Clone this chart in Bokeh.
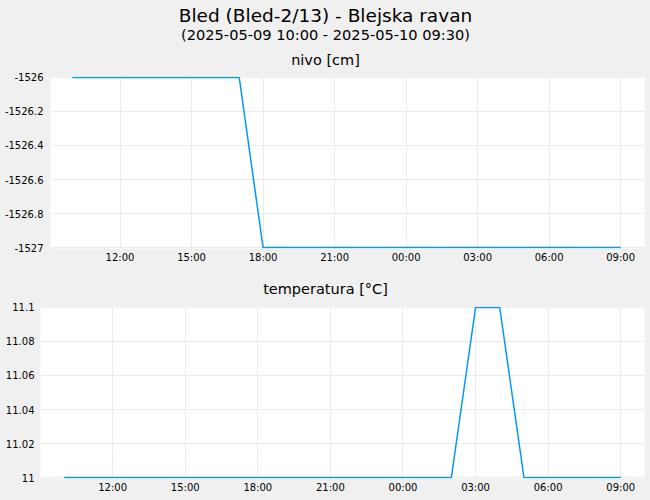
import pandas as pd
from jinja2 import Template
from bokeh.plotting import figure
from bokeh.layouts import column
from bokeh.models import (Range1d, FixedTicker, DatetimeTickFormatter,
                          NumeralTickFormatter, ColumnDataSource)
from bokeh.core.properties import value
from bokeh.core.templates import FILE
from bokeh.embed import file_html
from bokeh.resources import INLINE

# ---------------- data ----------------
TITLE = "Bled (Bled-2/13) - Blejska ravan"
SUBTITLE = "(2025-05-09 10:00 - 2025-05-10 09:30)"
LEVEL_TITLE = "nivo [cm]"
TEMP_TITLE = "temperatura [°C]"

times = [
    "2025-05-09 10:00", "2025-05-09 11:00", "2025-05-09 12:00", "2025-05-09 13:00",
    "2025-05-09 14:00", "2025-05-09 15:00", "2025-05-09 16:00", "2025-05-09 17:00",
    "2025-05-09 18:00", "2025-05-09 19:00", "2025-05-09 20:00", "2025-05-09 21:00",
    "2025-05-09 22:00", "2025-05-09 23:00", "2025-05-10 00:00", "2025-05-10 01:00",
    "2025-05-10 02:00", "2025-05-10 03:00", "2025-05-10 04:00", "2025-05-10 05:00",
    "2025-05-10 06:00", "2025-05-10 07:00", "2025-05-10 08:00", "2025-05-10 09:00",
]
nivo = [-1526, -1526, -1526, -1526, -1526, -1526, -1526, -1526,
        -1527, -1527, -1527, -1527, -1527, -1527, -1527, -1527,
        -1527, -1527, -1527, -1527, -1527, -1527, -1527, -1527]
temperatura = [11.0, 11.0, 11.0, 11.0, 11.0, 11.0, 11.0, 11.0,
               11.0, 11.0, 11.0, 11.0, 11.0, 11.0, 11.0, 11.0,
               11.0, 11.1, 11.1, 11.0, 11.0, 11.0, 11.0, 11.0]

x_tick_times = ["2025-05-09 12:00", "2025-05-09 15:00", "2025-05-09 18:00",
                "2025-05-09 21:00", "2025-05-10 00:00", "2025-05-10 03:00",
                "2025-05-10 06:00", "2025-05-10 09:00"]
nivo_ticks = [-1527, -1526.8, -1526.6, -1526.4, -1526.2, -1526]
temp_ticks = [11, 11.02, 11.04, 11.06, 11.08, 11.1]

nivo_x_range = ("2025-05-09 09:05", "2025-05-10 10:00")
temp_x_range = ("2025-05-09 09:01", "2025-05-10 09:59")

# ---------------- style ----------------
FONT = "DejaVu Sans"
W = 650
BG = "#f0f0f0"
GRID = "#ebebeb"
LINE = "#0096ff"
FRAME_H = 172


def strip(height, items):
    p = figure(width=W, height=height, x_range=Range1d(0, W),
               y_range=Range1d(height, 0), x_axis_location=None,
               y_axis_location=None, toolbar_location=None,
               output_backend="svg", min_border=0, outline_line_color=None,
               background_fill_color=BG, border_fill_color=BG,
               frame_align=False)
    p.grid.visible = False
    for text, y, size in items:
        p.text(x=[W / 2], y=[y], text=[text], text_align="center",
               text_baseline="alphabetic", text_font=value(FONT),
               text_font_size=size, text_color="#000000")
    return p


def ms(t):
    return pd.Timestamp(t).value / 1e6


def chart(xs, ys, xr, yticks, left, top, bottom, standoff):
    src = ColumnDataSource(dict(t=pd.to_datetime(xs), v=ys))
    lo, hi = min(yticks), max(yticks)
    pad = (hi - lo) / FRAME_H  # one pixel, so the edge lines are not clipped
    p = figure(width=W, height=top + FRAME_H + bottom, x_axis_type="datetime",
               x_range=Range1d(pd.Timestamp(xr[0]), pd.Timestamp(xr[1])),
               y_range=Range1d(lo - pad, hi + pad),
               toolbar_location=None, output_backend="svg",
               min_border_left=left, min_border_right=6, min_border_top=top,
               min_border_bottom=bottom, outline_line_color=None,
               background_fill_color="#ffffff", border_fill_color=BG,
               frame_align=False)
    p.line(x="t", y="v", source=src, line_color=LINE, line_width=1.5)
    p.xaxis.ticker = FixedTicker(ticks=[ms(t) for t in x_tick_times])
    p.xaxis.formatter = DatetimeTickFormatter(
        minutes="%H:%M", hourmin="%H:%M", hours="%H:%M", days="%H:%M",
        months="%H:%M", years="%H:%M")
    p.yaxis.ticker = FixedTicker(ticks=yticks)
    p.yaxis.formatter = NumeralTickFormatter(format="0.[00]")
    for ax in (p.xaxis, p.yaxis):
        ax.axis_line_color = None
        ax.major_tick_line_color = None
        ax.minor_tick_line_color = None
        ax.major_tick_out = 0
        ax.major_tick_in = 0
        ax.major_label_text_font = FONT
        ax.major_label_text_font_size = "10px"
        ax.major_label_text_color = "#000000"
    p.xaxis.major_label_standoff = 3
    p.yaxis.major_label_standoff = standoff
    p.xgrid.grid_line_color = GRID
    p.ygrid.grid_line_color = GRID
    return p


header = strip(68, [(TITLE, 14.5, "18.5px"), (SUBTITLE, 34, "14.6px"),
                    (LEVEL_TITLE, 59.5, "14.5px")])
p1 = chart(times, nivo, nivo_x_range, nivo_ticks, 50, 8, 22, 7)
mid = strip(29, [(TEMP_TITLE, 18.5, "14.5px")])
p2 = chart(times, temperatura, temp_x_range, temp_ticks, 40, 7, 22, 6)

layout = column(header, p1, mid, p2, spacing=0)

tpl = Template("""{% extends base %}
{% block preamble %}<style>html, body { background: #f0f0f0; }</style>{% endblock %}""")

open("out.html", "w").write(
    file_html(layout, INLINE, template=tpl, template_variables={"base": FILE}))
